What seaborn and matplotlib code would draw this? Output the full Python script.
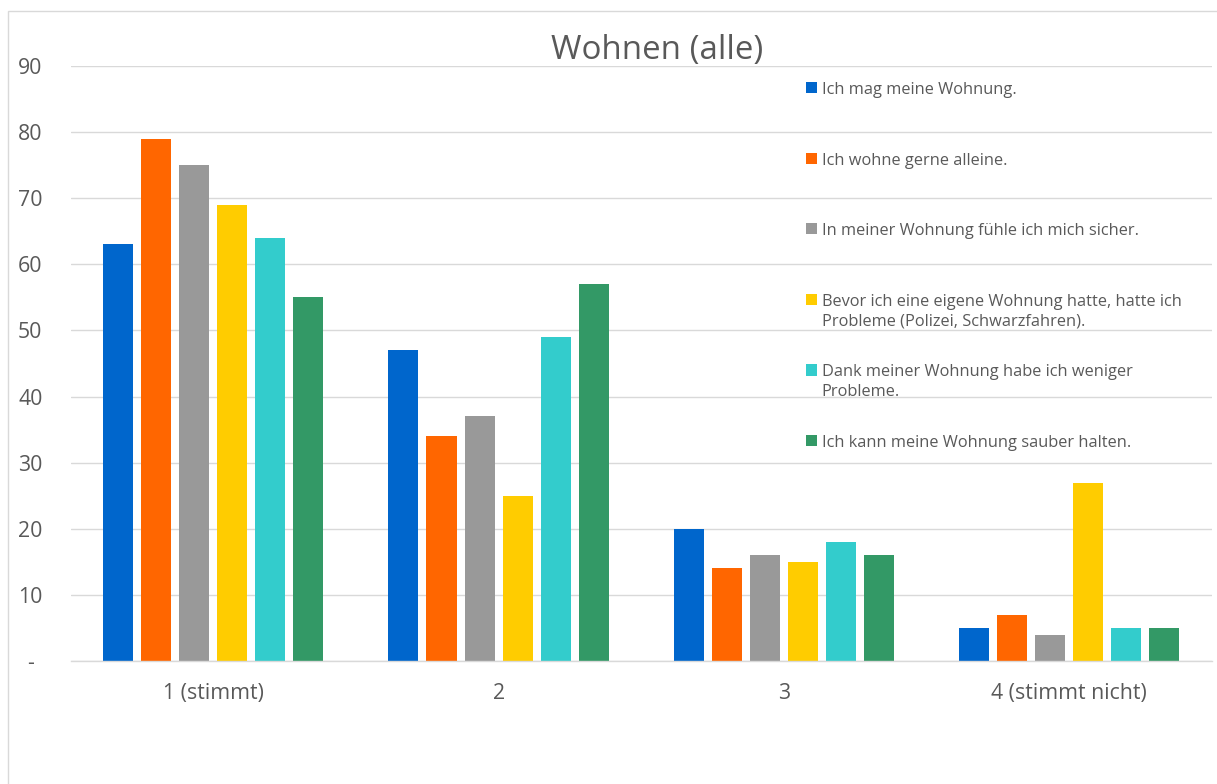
import matplotlib
matplotlib.use("Agg")
import matplotlib.pyplot as plt
import seaborn as sns
import pandas as pd
from matplotlib.patches import Rectangle

categories = ["1 (stimmt)", "2", "3", "4 (stimmt nicht)"]
series = [
    "Ich mag meine Wohnung.",
    "Ich wohne gerne alleine.",
    "In meiner Wohnung fühle ich mich sicher.",
    "Bevor ich eine eigene Wohnung hatte, hatte ich\nProbleme (Polizei, Schwarzfahren).",
    "Dank meiner Wohnung habe ich weniger\nProbleme.",
    "Ich kann meine Wohnung sauber halten.",
]
values = [
    [63, 47, 20, 5],
    [79, 34, 14, 7],
    [75, 37, 16, 4],
    [69, 25, 15, 27],
    [64, 49, 18, 5],
    [55, 57, 16, 5],
]
colors = ["#0066CC", "#FF6600", "#999999", "#FFCC00", "#33CCCC", "#339966"]
yticks = [0, 10, 20, 30, 40, 50, 60, 70, 80, 90]
ytick_labels = ["-", "10", "20", "30", "40", "50", "60", "70", "80", "90"]
title = "Wohnen (alle)"

rows = []
for s, vals in zip(series, values):
    for c, v in zip(categories, vals):
        rows.append({"Kategorie": c, "Serie": s, "Wert": v})
df = pd.DataFrame(rows)

sns.set_theme(style="white")
plt.rcParams["font.family"] = ["Open Sans", "DejaVu Sans"]

W, H = 1217, 784
fig = plt.figure(figsize=(W / 100, H / 100), dpi=100)
left, right, top, bottom = 70.5, 1212, 66, 661
ax = fig.add_axes([left / W, 1 - bottom / H, (right - left) / W, (bottom - top) / H])

sns.barplot(data=df, x="Kategorie", y="Wert", hue="Serie", order=categories,
            hue_order=series, palette=colors, width=0.8, gap=0.21,
            linewidth=0, saturation=1, ax=ax, legend=True)

ax.set_ylim(0, 90)
ax.set_xlim(-0.5, len(categories) - 0.5)
ax.set_yticks(yticks)
ax.set_yticklabels(ytick_labels)
ax.set_xlabel("")
ax.set_ylabel("")
ax.yaxis.grid(True, color="#D9D9D9", linewidth=1)
ax.set_axisbelow(True)
for sp in ["left", "right", "top"]:
    ax.spines[sp].set_visible(False)
ax.spines["bottom"].set_color("#D9D9D9")
ax.spines["bottom"].set_linewidth(1)
ax.tick_params(axis="both", length=0, colors="#595959", labelsize=15.3)
ax.tick_params(axis="x", pad=16)
ax.tick_params(axis="y", pad=29)
for t in ax.get_yticklabels():
    t.set_horizontalalignment("center")

fig.text(657 / W, 1 - 51 / H, title, ha="center", va="center",
         fontsize=23.8, color="#595959")

# Legend
handles, labels = ax.get_legend_handles_labels()
labels2 = [l if "\n" in l else l + "\n " for l in labels]
ax.get_legend().remove()
leg = fig.legend(handles, labels2, loc="upper left",
                 bbox_to_anchor=(806 / W, 1 - 82 / H), frameon=False,
                 fontsize=11.8, handlelength=0.7, handleheight=0.7,
                 handletextpad=0.25, labelspacing=2.13, borderpad=0,
                 borderaxespad=0, labelcolor="#595959")
for t in leg.get_texts():
    t.set_linespacing(1.3)
for vp in leg._legend_handle_box.get_children():
    for hp in vp.get_children():
        hp.align = "top"

fig.patches.append(Rectangle((8 / W, -0.1), 1.2, 1.1 - 11 / H,
                             transform=fig.transFigure, fill=False,
                             edgecolor="#D9D9D9", linewidth=1, zorder=-1))

fig.savefig("out.png", dpi=100, facecolor="white")
